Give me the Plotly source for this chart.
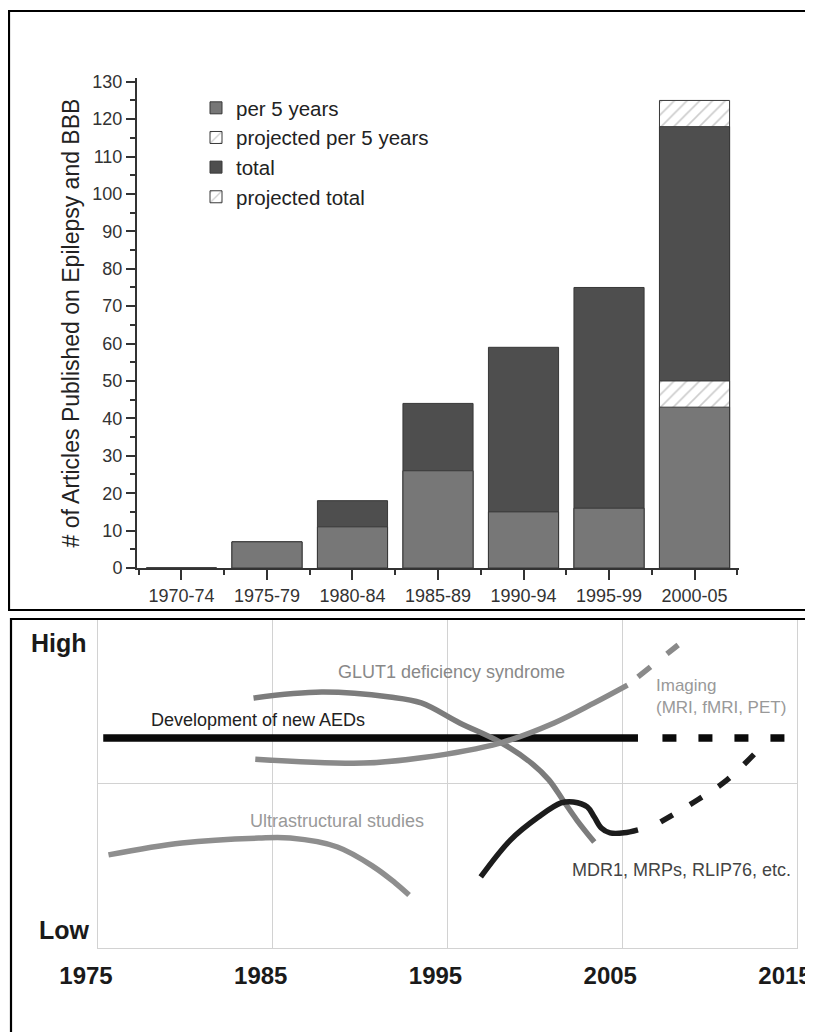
import plotly.graph_objects as go

# the page is drawn with the browser's 8px body margin, so the figure is sized to fit the window
OFF = 8
W, H = 813 - OFF, 1032 - OFF

# ---------------- data: top panel ----------------
categories = ["1970-74", "1975-79", "1980-84", "1985-89", "1990-94", "1995-99", "2000-05"]
per_5_years = [0, 7, 11, 26, 15, 16, 43]
projected_per_5_years = [None, None, None, None, None, None, 50]
total = [0, 7, 18, 44, 59, 75, 118]
projected_total = [None, None, None, None, None, None, 125]
y_ticks = list(range(0, 131, 10))

# ---------------- data: bottom panel ----------------
year_ticks = [1975, 1985, 1995, 2005, 2015]

aed_years = [1975.3, 2005.9]
aed_level = [0.638, 0.638]
aed_proj_years = [2007.3, 2014.4]
aed_proj_level = [0.638, 0.638]

glut1_years = [1983.9, 1987.8, 1991.7, 1993.5, 1995.7, 1998.0, 1999.8, 2000.8, 2001.6, 2002.4, 2003.4]
glut1_level = [0.760, 0.778, 0.763, 0.745, 0.684, 0.626, 0.562, 0.511, 0.450, 0.389, 0.322]

imaging_years = [1984.0, 1990.2, 1993.5, 1998.0, 2001.1, 2003.4, 2005.3]
imaging_level = [0.574, 0.562, 0.578, 0.623, 0.684, 0.745, 0.799]
imaging_proj_years = [2005.9, 2008.2]
imaging_proj_level = [0.824, 0.921]

ultra_years = [1975.6, 1979.8, 1984.2, 1986.0, 1988.7, 1990.8, 1992.0, 1992.8]
ultra_level = [0.283, 0.319, 0.334, 0.334, 0.307, 0.246, 0.198, 0.161]

mdr_years = [1996.9, 1998.6, 2000.2, 2001.5, 2002.2, 2003.0, 2003.4, 2003.8, 2004.3, 2005.1, 2005.9]
mdr_level = [0.216, 0.328, 0.398, 0.441, 0.444, 0.429, 0.398, 0.365, 0.350, 0.350, 0.359]
mdr_proj_years = [2007.2, 2009.3, 2011.0, 2012.9]
mdr_proj_level = [0.383, 0.450, 0.511, 0.608]

# ---------------- helpers (page pixels -> paper fractions) ----------------
def px(x):
    return (x - OFF) / W

def py(y):
    return 1 - (y - OFF) / H

positions = list(range(len(categories)))
edge = dict(color="#383838", width=1)
hatch = dict(shape="/", fgcolor="#9a9a9a", bgcolor="white", size=9, solidity=0.18)

fig = go.Figure()

fig.add_trace(go.Bar(x=positions, y=projected_total, name="projected total", legendrank=4,
                     marker=dict(color="white", pattern=hatch, line=edge), width=0.82,
                     xaxis="x", yaxis="y"))
fig.add_trace(go.Bar(x=positions, y=total, name="total", legendrank=3,
                     marker=dict(color="#4e4e4e", line=edge), width=0.82,
                     xaxis="x", yaxis="y"))
fig.add_trace(go.Bar(x=positions, y=projected_per_5_years, name="projected per 5 years", legendrank=2,
                     marker=dict(color="white", pattern=hatch, line=edge), width=0.82,
                     xaxis="x", yaxis="y"))
fig.add_trace(go.Bar(x=positions, y=per_5_years, name="per 5 years", legendrank=1,
                     marker=dict(color="#777777", line=edge), width=0.82,
                     xaxis="x", yaxis="y"))

# bottom panel curves
def curve(xs, ys, color, width, dash=None):
    fig.add_trace(go.Scatter(x=xs, y=ys, mode="lines", showlegend=False, hoverinfo="skip",
                             line=dict(color=color, width=width, shape="spline", dash=dash),
                             xaxis="x2", yaxis="y2"))

curve(ultra_years, ultra_level, "#8e8e8e", 5.5)
curve(aed_years, aed_level, "#0a0a0a", 7.5)
curve(aed_proj_years, aed_proj_level, "#0a0a0a", 7.5, "14px,22px")
curve(glut1_years, glut1_level, "#7c7c7c", 5.5)
curve(imaging_years, imaging_level, "#8a8a8a", 5.5)
curve(imaging_proj_years, imaging_proj_level, "#8a8a8a", 5.5, "16px,21px")
curve(mdr_years, mdr_level, "#1c1c1c", 5.5)
curve(mdr_proj_years, mdr_proj_level, "#1c1c1c", 5.5, "14px,20px")

axis_col = "#333333"

fig.update_layout(
    width=W, height=H, autosize=False,
    margin=dict(l=0, r=0, t=0, b=0, pad=0, autoexpand=False),
    paper_bgcolor="white", plot_bgcolor="white",
    barmode="overlay",
    font=dict(family="Liberation Sans, Arial", color="#222222"),
    legend=dict(x=px(196), y=py(88), xanchor="left", yanchor="top",
                font=dict(size=20.5, color="#222222"), bgcolor="rgba(0,0,0,0)",
                itemwidth=30, traceorder="normal"),
    xaxis=dict(domain=[px(137), px(739)], range=[-0.52, 6.52], automargin=False,
               tickmode="array", tickvals=positions, ticktext=categories,
               ticks="outside", ticklen=10, tickwidth=1.5, tickcolor=axis_col,
               minor=dict(tick0=0.5, dtick=1, ticks="outside", ticklen=5, tickwidth=1.5, tickcolor=axis_col),
               showline=True, linecolor=axis_col, linewidth=2,
               showgrid=False, zeroline=False,
               tickfont=dict(size=18, color="#333333"),
               anchor="y"),
    yaxis=dict(domain=[py(568), py(78)], range=[0, 131], automargin=False,
               tickmode="array", tickvals=y_ticks,
               ticks="outside", ticklen=9, tickwidth=1.5, tickcolor=axis_col,
               minor=dict(tick0=0, dtick=5, ticks="outside", ticklen=5, tickwidth=1.5, tickcolor=axis_col),
               showline=True, linecolor=axis_col, linewidth=2,
               showgrid=False, zeroline=False,
               tickfont=dict(size=18, color="#333333"),
               title=dict(text="# of Articles Published on Epilepsy and BBB",
                          font=dict(size=23, color="#222222"), standoff=6),
               anchor="x"),
    xaxis2=dict(domain=[px(98), px(797)], range=[1975, 2015], automargin=False,
                tickmode="array", tickvals=year_ticks,
                showgrid=True, gridcolor="#d2d2d2", gridwidth=1.2,
                showline=True, mirror=True, linecolor="#d2d2d2", linewidth=1.2,
                zeroline=False,
                ticks="outside", ticklen=6, tickcolor="rgba(0,0,0,0)",
                ticklabeloverflow="allow", ticklabelshift=-12,
                tickfont=dict(size=24, color="#1a1a1a", weight="bold"),
                anchor="y2"),
    yaxis2=dict(domain=[py(948), py(619)], range=[0, 1], automargin=False,
                tickmode="array", tickvals=[0.5], showticklabels=False,
                showgrid=True, gridcolor="#d2d2d2", gridwidth=1.2,
                showline=True, mirror=True, linecolor="#d2d2d2", linewidth=1.2,
                zeroline=False, anchor="x2"),
)

# panel frames
fig.add_shape(type="rect", xref="paper", yref="paper", x0=px(9), x1=1.05, y0=py(610), y1=py(11),
              line=dict(color="black", width=2.2), fillcolor="rgba(0,0,0,0)", layer="above")
fig.add_shape(type="rect", xref="paper", yref="paper", x0=px(11), x1=1.05, y0=-0.05, y1=py(619),
              line=dict(color="black", width=2.2), fillcolor="rgba(0,0,0,0)", layer="above")

def label(text, x, y, color, size=18, xref="x2", yref="y2", bold=False, xanchor="left"):
    fig.add_annotation(text=text, x=x, y=y, xref=xref, yref=yref, showarrow=False,
                       xanchor=xanchor, yanchor="middle", align="left",
                       font=dict(size=size, color=color, weight="bold" if bold else "normal"))

label("Development of new AEDs", 1977.9, 0.693, "#222222")
label("GLUT1 deficiency syndrome", 1988.6, 0.839, "#888888")
label("Imaging<br>(MRI, fMRI, PET)", 2006.8, 0.763, "#999999", size=17)
label("Ultrastructural studies", 1983.6, 0.386, "#999999")
label("MDR1, MRPs, RLIP76, etc.", 2002.0, 0.237, "#444444")
label("High", px(59), py(643), "#1a1a1a", size=25, xref="paper", yref="paper", bold=True, xanchor="center")
label("Low", px(64), py(930), "#1a1a1a", size=25, xref="paper", yref="paper", bold=True, xanchor="center")

fig.write_html("out.html")
